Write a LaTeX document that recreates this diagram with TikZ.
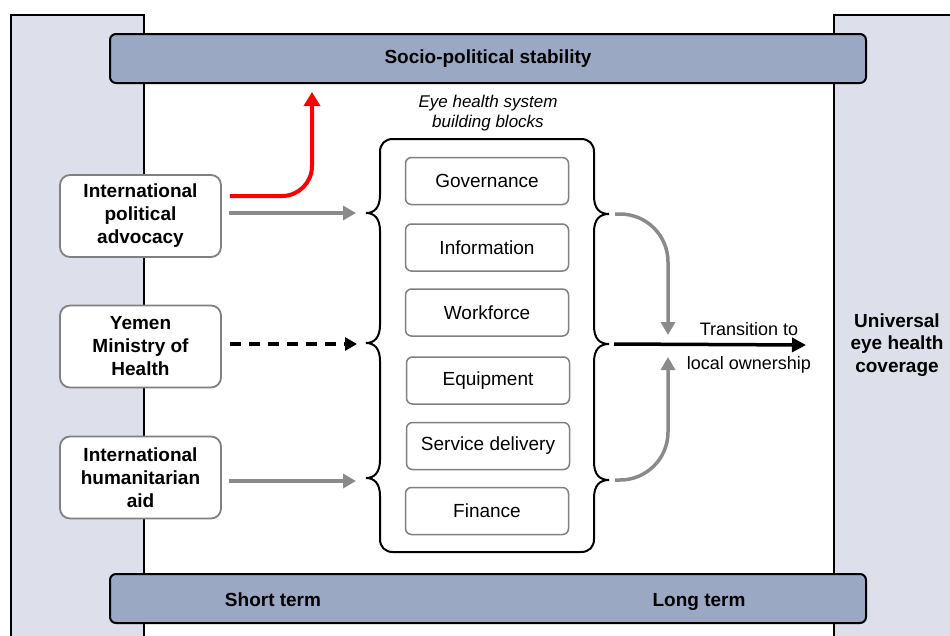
\documentclass[tikz,border=0pt]{standalone}
\usepackage{fontspec}
\setmainfont{Liberation Sans}
\usetikzlibrary{arrows.meta}
\definecolor{panelfill}{HTML}{DDE0EA}
\definecolor{barfill}{HTML}{9AA8C4}
\definecolor{arrgray}{HTML}{8A8A8A}
\definecolor{boxgray}{HTML}{808080}
\begin{document}
\begin{tikzpicture}[x=1pt,y=-1pt,
  panel/.style={draw=black,line width=1.5pt,fill=panelfill},
  bar/.style={draw=black,line width=2pt,fill=barfill,rounded corners=6pt,minimum width=756pt,minimum height=49pt,inner sep=0pt,font=\fontsize{19}{23}\selectfont\bfseries},
  bartext/.style={font=\fontsize{19}{23}\selectfont\bfseries,inner sep=0pt,anchor=base},
  srcbox/.style={draw=boxgray,line width=1.8pt,fill=white,rounded corners=10pt,minimum width=161pt,minimum height=82pt,align=center,inner sep=0pt,font=\fontsize{19}{23}\selectfont\bfseries},
  block/.style={draw=boxgray,line width=1.5pt,fill=white,rounded corners=6pt,minimum width=163pt,minimum height=47pt,inner sep=0pt,font=\fontsize{19}{23}\selectfont},
  grayarr/.style={draw=arrgray,line width=3.5pt,-{Triangle[length=13pt,width=14pt]}},
  blackarr/.style={draw=black,line width=3.5pt,-{Triangle[length=14pt,width=14pt]}},
  redarr/.style={draw=red,line width=4pt,-{Triangle[length=14pt,width=16pt]}},
  container/.style={draw=black,line width=2pt},
  trlabel/.style={inner sep=0pt,anchor=base,font=\fontsize{18}{22}\selectfont}
]
\clip (0,0) rectangle (950,635);
\fill[white] (0,0) rectangle (950,635);
% side panels
\draw[panel] (11,15) rectangle (144,645);
\draw[panel] (834,15) rectangle (960,645);
% bars
\node[bar] (top) at (488,58.5) {Socio-political stability};
\node[bar] (bot) at (488,598.5) {};
\node[bartext] (short) at (273,606) {Short term};
\node[bartext] (long) at (699,606) {Long term};
% title
\node[align=center,inner sep=0pt,font=\fontsize{17}{20}\selectfont\itshape] (title) at (488,113) {Eye health system\\building blocks};
% container with braces
\draw[container] (393,139) -- (581,139)
  .. controls (589,139) and (594,144) .. (594,152)
  -- (594,196) .. controls (594,209) and (600,214) .. (609,214) .. controls (600,214) and (594,219) .. (594,232)
  -- (594,326) .. controls (594,339) and (600,344) .. (609,344) .. controls (600,344) and (594,349) .. (594,362)
  -- (594,462) .. controls (594,475) and (600,480) .. (609,480) .. controls (600,480) and (594,485) .. (594,498)
  -- (594,539) .. controls (594,547) and (589,552) .. (581,552)
  -- (393,552) .. controls (385,552) and (380,547) .. (380,539)
  -- (380,496) .. controls (380,483) and (374,478) .. (366,478) .. controls (374,478) and (380,473) .. (380,460)
  -- (380,361) .. controls (380,348) and (374,343) .. (366,343) .. controls (374,343) and (380,338) .. (380,325)
  -- (380,231) .. controls (380,218) and (374,213) .. (366,213) .. controls (374,213) and (380,208) .. (380,195)
  -- (380,152) .. controls (380,144) and (385,139) .. (393,139) -- cycle;
\coordinate (lt1) at (366,213);
\coordinate (lt2) at (366,344);
\coordinate (lt3) at (366,481);
\coordinate (rt1) at (609,214);
\coordinate (rt2) at (609,344);
\coordinate (rt3) at (609,480);
% blocks
\node[block] (gov) at (487,181) {Governance};
\node[block] (info) at (487,247.5) {Information};
\node[block] (work) at (487,312.5) {Workforce};
\node[block] (equip) at (488,380.5) {Equipment};
\node[block] (serv) at (488,446) {Service delivery};
\node[block] (fin) at (487,511) {Finance};
% source boxes
\node[srcbox] (adv) at (140.5,216) {International\\political\\advocacy};
\node[srcbox] (moh) at (140.5,346.5) {Yemen\\Ministry of\\Health};
\node[srcbox] (aid) at (140.5,477.5) {International\\humanitarian\\aid};
% right label
\node[align=center,inner sep=0pt,font=\fontsize{19}{22.5}\selectfont\bfseries] (uhc) at (897,345) {Universal\\eye health\\coverage};
% arrows from sources
\coordinate (redtip) at (312,92);
\draw[redarr,rounded corners=30pt] ([xshift=8pt,yshift=20pt]adv.east) -| (redtip);
\draw[grayarr] ([xshift=7pt]adv.east |- lt1) -- ([xshift=-10pt]lt1);
\draw[blackarr,dash pattern=on 11pt off 8pt,-{Triangle[length=12pt,width=13pt]}] ([xshift=8pt]moh.east |- lt2) -- ([xshift=-9pt]lt2);
\draw[grayarr] ([xshift=7pt]aid.east |- lt3) -- ([xshift=-10pt]lt3);
% right side arrows
\coordinate (trend) at (806,345);
\coordinate (cdown) at (668,335);
\coordinate (cup) at (668,357);
\draw[blackarr] ([xshift=5pt]rt2) -- (trend);
\draw[grayarr,rounded corners=48pt] ([xshift=6pt]rt1) -| (cdown);
\draw[grayarr,rounded corners=48pt] ([xshift=6pt]rt3) -| (cup);
\node[trlabel] (tr1) at (749,335) {Transition to};
\node[trlabel] (tr2) at (749,369) {local ownership};
\end{tikzpicture}
\end{document}
